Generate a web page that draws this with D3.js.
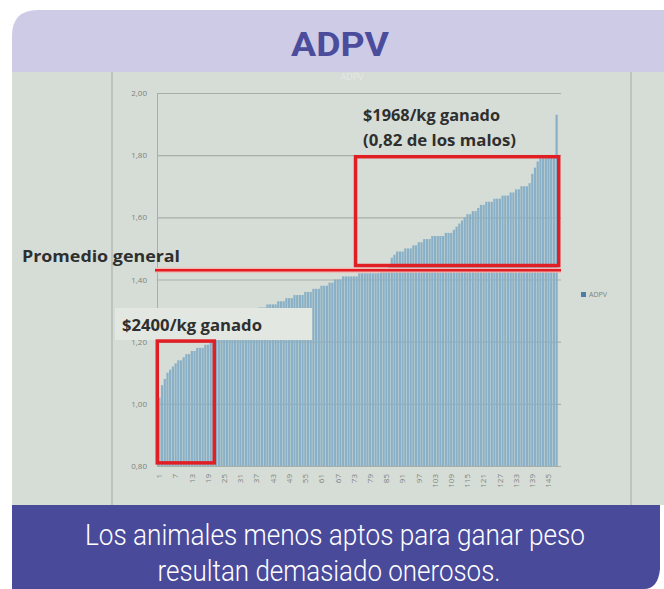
<!DOCTYPE html>
<html>
<head>
<meta charset="utf-8">
<script src="https://cdn.jsdelivr.net/npm/d3@7"></script>
<style>
  body { margin: 0; background: #fff; }
  svg { display: block; }
</style>
</head>
<body>
<svg id="chart" width="664" height="589"></svg>
<script>
// ADPV per animal, sorted ascending
const adpv = [
  1.02, 1.06, 1.08, 1.10, 1.11, 1.12, 1.13, 1.14, 1.14, 1.15,
  1.16, 1.16, 1.17, 1.17, 1.18, 1.18, 1.18, 1.19, 1.19, 1.20,
  1.20, 1.21, 1.21, 1.22, 1.22, 1.23, 1.23, 1.24, 1.25, 1.25,
  1.26, 1.27, 1.27, 1.28, 1.29, 1.29, 1.30,
  1.31, 1.31, 1.31, 1.32, 1.32, 1.32, 1.32, 1.33, 1.33, 1.33,
  1.34, 1.34, 1.34, 1.35, 1.35, 1.35, 1.35, 1.36, 1.36, 1.36, 1.37, 1.37,
  1.37, 1.38, 1.38, 1.38, 1.39, 1.39, 1.40, 1.40, 1.40, 1.41,
  1.41, 1.41, 1.41, 1.41, 1.41, 1.42, 1.42, 1.42, 1.42, 1.42,
  1.42, 1.42, 1.42, 1.43, 1.43, 1.43, 1.44,
  1.47, 1.48, 1.49, 1.49, 1.49, 1.50, 1.50,
  1.50, 1.51, 1.51, 1.52, 1.52, 1.53, 1.53, 1.53,
  1.54, 1.54, 1.54, 1.54, 1.54, 1.55, 1.55, 1.55, 1.56, 1.57,
  1.58, 1.59, 1.60, 1.61, 1.61, 1.62, 1.62,
  1.63, 1.64, 1.64, 1.65, 1.65, 1.65, 1.66, 1.66, 1.66, 1.67, 1.67,
  1.67, 1.68, 1.68, 1.69, 1.69, 1.70, 1.70, 1.70, 1.71,
  1.74, 1.76, 1.78, 1.79, 1.79, 1.79, 1.80, 1.80, 1.80, 1.93
]
const animalIds = adpv.map((d, i) => i + 1)
const xTickLabels = [1, 7, 13, 19, 25, 31, 37, 43, 49, 55, 61, 67, 73, 79, 85, 91, 97, 103, 109, 115, 121, 127, 133, 139, 145]
const yTicks = [0.8, 1.0, 1.2, 1.4, 1.6, 1.8, 2.0]
const promedioGeneral = 1.43
const seriesName = "ADPV"

const svg = d3.select("#chart")
const W = +svg.attr("width"), H = +svg.attr("height")
const card = {left: 12, top: 10, headerBottom: 72, footerTop: 505, right: 664}
const plot = {left: 158, right: 558, top: 93, bottom: 466}

// --- card background ---
const photoBg = "#d6ddd6"
svg.append("path")
    .attr("d", "M" + card.left + "," + (card.top + 26) +
        " Q" + card.left + "," + card.top + " " + (card.left + 26) + "," + card.top +
        " L" + W + "," + card.top + " L" + W + "," + card.headerBottom +
        " L" + card.left + "," + card.headerBottom + " Z")
    .attr("fill", "#cecbe7")

svg.append("rect")
    .attr("x", card.left).attr("y", card.headerBottom)
    .attr("width", W - card.left).attr("height", card.footerTop - card.headerBottom)
    .attr("fill", photoBg)

// frame lines of the photographed slide
svg.append("line").attr("x1", 112).attr("x2", 112).attr("y1", card.headerBottom).attr("y2", card.footerTop)
    .attr("stroke", "#b3bbb4").attr("stroke-width", 1.5)
svg.append("line").attr("x1", 631).attr("x2", 631).attr("y1", card.headerBottom).attr("y2", card.footerTop)
    .attr("stroke", "#b3bbb4").attr("stroke-width", 1.5)

svg.append("text")
    .attr("x", 340).attr("y", 56)
    .attr("text-anchor", "middle")
    .attr("textLength", 98).attr("lengthAdjust", "spacingAndGlyphs")
    .style("font", "bold 34px Roboto, sans-serif")
    .attr("fill", "#4b4c9c")
    .text("ADPV")

// faint chart title in the photo
svg.append("text")
    .attr("x", 352).attr("y", 80)
    .attr("text-anchor", "middle")
    .style("font", "9px 'Open Sans', sans-serif")
    .attr("fill", "#e4e9e4")
    .text(seriesName)

// --- scales ---
const x = d3.scaleBand().domain(animalIds).range([plot.left, plot.right]).paddingInner(0.18).paddingOuter(0.1)
const y = d3.scaleLinear().domain([0.8, 2.0]).range([plot.bottom, plot.top])
const fmt = d => d3.format(".2f")(d).replace(".", ",")

// gridlines + y axis
const yAxis = svg.append("g")
    .attr("transform", "translate(" + (plot.left - 1) + ",0)")
    .call(d3.axisLeft(y).tickValues(yTicks).tickFormat(fmt).tickSize(-(plot.right - plot.left + 4)).tickPadding(10))
yAxis.select(".domain").attr("stroke", "#a7afa9")
yAxis.selectAll(".tick line").attr("stroke", "#a7afa9").attr("stroke-width", 1.2)
yAxis.selectAll(".tick text")
    .attr("fill", "#7d837f")
    .style("font", "8px 'Open Sans', sans-serif")

// bars
svg.append("g").selectAll("rect")
    .data(adpv)
    .enter().append("rect")
    .attr("x", (d, i) => x(animalIds[i]))
    .attr("width", x.bandwidth())
    .attr("y", d => y(d))
    .attr("height", d => y(0.8) - y(d))
    .attr("fill", "#89b0c6")

// x axis labels (rotated)
const xAxis = svg.append("g")
    .attr("transform", "translate(0," + (plot.bottom + 2) + ")")
    .call(d3.axisBottom(x).tickValues(xTickLabels).tickSize(0).tickPadding(4))
xAxis.select(".domain").remove()
xAxis.selectAll(".tick text")
    .attr("transform", "rotate(-90)")
    .attr("text-anchor", "end")
    .attr("x", -6).attr("y", 0).attr("dy", "0.35em")
    .attr("fill", "#7d837f")
    .style("font", "8px 'Open Sans', sans-serif")

// legend
svg.append("rect").attr("x", 581).attr("y", 292).attr("width", 5).attr("height", 5).attr("fill", "#4d7da6")
svg.append("text").attr("x", 589).attr("y", 297)
    .style("font", "7px 'Open Sans', sans-serif").attr("fill", "#7d837f")
    .text(seriesName)

// --- annotations ---
const red = "#e11e24"
const noteFont = "bold 16px 'Open Sans', sans-serif"

// promedio general line
svg.append("line")
    .attr("x1", 155).attr("x2", plot.right + 3)
    .attr("y1", y(promedioGeneral)).attr("y2", y(promedioGeneral))
    .attr("stroke", "#f3b6b0").attr("stroke-width", 5)
svg.append("line")
    .attr("x1", 155).attr("x2", plot.right + 3)
    .attr("y1", y(promedioGeneral)).attr("y2", y(promedioGeneral))
    .attr("stroke", red).attr("stroke-width", 2.5)

svg.append("text")
    .attr("x", 22).attr("y", 262)
    .attr("textLength", 158).attr("lengthAdjust", "spacingAndGlyphs")
    .style("font", noteFont).attr("fill", "#2e2f2e")
    .text("Promedio general")

// best animals box
const hiBox = {x0: x(74), x1: x(148) + x.bandwidth() + 1, v0: 1.445, v1: 1.795}
svg.append("rect")
    .attr("x", hiBox.x0).attr("y", y(hiBox.v1))
    .attr("width", hiBox.x1 - hiBox.x0).attr("height", y(hiBox.v0) - y(hiBox.v1))
    .attr("fill", "none").attr("stroke", red).attr("stroke-width", 3.5)

svg.append("text")
    .attr("x", 363).attr("y", 121)
    .attr("textLength", 137).attr("lengthAdjust", "spacingAndGlyphs")
    .style("font", noteFont).attr("fill", "#2e2f2e")
    .text("$1968/kg ganado")
svg.append("text")
    .attr("x", 363).attr("y", 146)
    .attr("textLength", 153).attr("lengthAdjust", "spacingAndGlyphs")
    .style("font", noteFont).attr("fill", "#2e2f2e")
    .text("(0,82 de los malos)")

// worst animals label + box
svg.append("rect")
    .attr("x", 115).attr("y", 308).attr("width", 197).attr("height", 32)
    .attr("fill", "#e2e7e2")
svg.append("text")
    .attr("x", 122).attr("y", 331)
    .attr("textLength", 140).attr("lengthAdjust", "spacingAndGlyphs")
    .style("font", noteFont).attr("fill", "#2e2f2e")
    .text("$2400/kg ganado")

const loBox = {x0: x(1) - 1, x1: x(21) + 2, v0: 0.81, v1: 1.202}
svg.append("rect")
    .attr("x", loBox.x0).attr("y", y(loBox.v1))
    .attr("width", loBox.x1 - loBox.x0).attr("height", y(loBox.v0) - y(loBox.v1))
    .attr("fill", "none").attr("stroke", red).attr("stroke-width", 3.5)

// --- footer ---
svg.append("path")
    .attr("d", "M" + card.left + "," + card.footerTop + " L" + (W - 4) + "," + card.footerTop +
        " L" + (W - 4) + "," + (H - 20) + " Q" + (W - 6) + "," + H + " " + (W - 20) + "," + H +
        " L" + card.left + "," + H + " Z")
    .attr("fill", "#4a4a9b")

svg.append("text")
    .attr("x", 335).attr("y", 545)
    .attr("text-anchor", "middle")
    .attr("textLength", 500).attr("lengthAdjust", "spacingAndGlyphs")
    .style("font", "300 29px Roboto, sans-serif").attr("fill", "#ffffff")
    .text("Los animales menos aptos para ganar peso")
svg.append("text")
    .attr("x", 329).attr("y", 581)
    .attr("text-anchor", "middle")
    .attr("textLength", 343).attr("lengthAdjust", "spacingAndGlyphs")
    .style("font", "300 29px Roboto, sans-serif").attr("fill", "#ffffff")
    .text("resultan demasiado onerosos.")
</script>
</body>
</html>
